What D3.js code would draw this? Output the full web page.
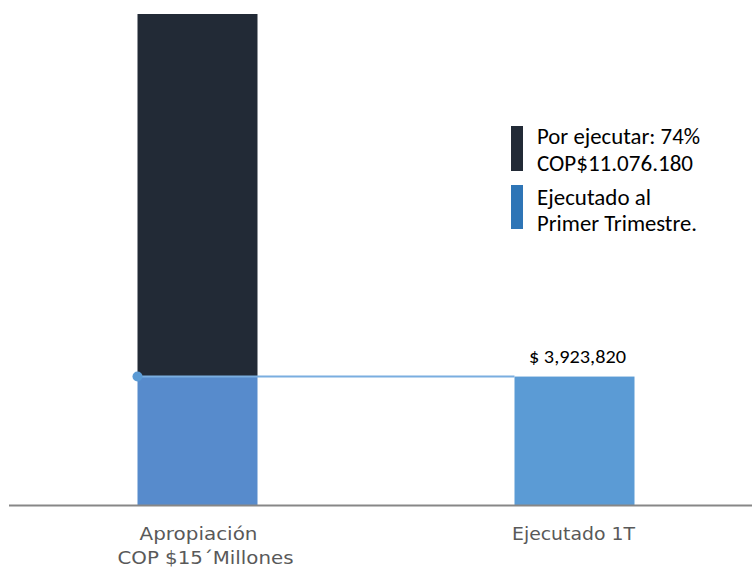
<!DOCTYPE html>
<html><head><meta charset="utf-8">
<script src="https://cdn.jsdelivr.net/npm/d3@7"></script>
<style>body{margin:0;background:#fff}svg{display:block}</style>
</head><body>
<script>
const categories = ["Apropiación", "Ejecutado 1T"];
const categoryLines = [["Apropiación", "COP $15´Millones"], ["Ejecutado 1T"]];
const executed = [3923820, 3923820];
const remaining = [11076180, 0];
const valueLabels = ["", "$ 3,923,820"];
const legendLabels = [["Por ejecutar: 74%", "COP$11.076.180"], ["Ejecutado al", "Primer Trimestre."]];
const yMax = 15000000;

const W = 752, H = 568;
const svg = d3.select("body").append("svg").attr("width", W).attr("height", H);

const x = d3.scaleBand().domain(categories).range([9, 763]).paddingInner(0.6817).paddingOuter(0.34085);
const y = d3.scaleLinear().domain([0, yMax]).range([505, 14]);

const darkC = "#222a36";
const blue1 = "#578bcc";
const blue2 = "#5b9bd5";
const textFont = "Carlito, Calibri, Lato, sans-serif";

// remaining (dark) stack
svg.selectAll("rect.rem").data(categories).enter().append("rect")
  .attr("x", d => x(d)).attr("width", x.bandwidth())
  .attr("y", (d, i) => y(executed[i] + remaining[i]))
  .attr("height", (d, i) => y(executed[i]) - y(executed[i] + remaining[i]))
  .attr("fill", darkC);

// executed (blue)
svg.selectAll("rect.exe").data(categories).enter().append("rect")
  .attr("x", d => x(d)).attr("width", x.bandwidth())
  .attr("y", (d, i) => y(executed[i]))
  .attr("height", (d, i) => y(0) - y(executed[i]))
  .attr("fill", (d, i) => i === 0 ? blue1 : blue2);

// connector line
svg.append("line")
  .attr("x1", x(categories[0])).attr("x2", x(categories[1]))
  .attr("y1", y(executed[0])).attr("y2", y(executed[1]))
  .attr("stroke", "#7aaee0").attr("stroke-width", 2);
svg.append("circle").attr("cx", x(categories[0])).attr("cy", y(executed[0])).attr("r", 5).attr("fill", blue2);

// baseline axis
svg.append("line").attr("x1", 9).attr("x2", 752).attr("y1", y(0) + 0.5).attr("y2", y(0) + 0.5)
  .attr("stroke", "#878787").attr("stroke-width", 2);

// value label
svg.selectAll("text.val").data(categories).enter().append("text")
  .filter((d, i) => valueLabels[i] !== "")
  .attr("x", d => x(d) + x.bandwidth() / 2 + 3).attr("y", (d, i) => y(executed[i]) - 13.5)
  .attr("text-anchor", "middle")
  .attr("font-family", textFont).attr("font-size", 19)
  .attr("fill", "#000")
  .attr("textLength", 97).attr("lengthAdjust", "spacingAndGlyphs")
  .text(d => valueLabels[categories.indexOf(d)]);

// category labels
const labelLens = [[118, 176], [123]];
const labelDx = [[1, 8], [-1]];
categories.forEach((c, i) => {
  categoryLines[i].forEach((ln, j) => {
    svg.append("text")
      .attr("x", x(c) + x.bandwidth() / 2 + labelDx[i][j]).attr("y", 540 + j * 24)
      .attr("text-anchor", "middle")
      .attr("font-family", "'DejaVu Sans', sans-serif").attr("font-size", 18)
      .attr("fill", "#595959")
      .attr("textLength", labelLens[i][j]).attr("lengthAdjust", "spacingAndGlyphs")
      .text(ln);
  });
});

// legend
const legColors = [darkC, "#2e75b6"];
const legY = [126, 185];
const legH = [45, 44];
const legBase = [[144, 171], [205, 231]];
const legLens = [[163, 156], [114, 160]];
legendLabels.forEach((lines, i) => {
  svg.append("rect").attr("x", 511).attr("y", legY[i]).attr("width", 12).attr("height", legH[i]).attr("fill", legColors[i]);
  lines.forEach((ln, j) => {
    svg.append("text").attr("x", 537).attr("y", legBase[i][j])
      .attr("font-family", textFont).attr("font-size", 22)
      .attr("fill", "#000")
      .attr("textLength", legLens[i][j]).attr("lengthAdjust", "spacingAndGlyphs")
      .text(ln);
  });
});
</script>
</body></html>
